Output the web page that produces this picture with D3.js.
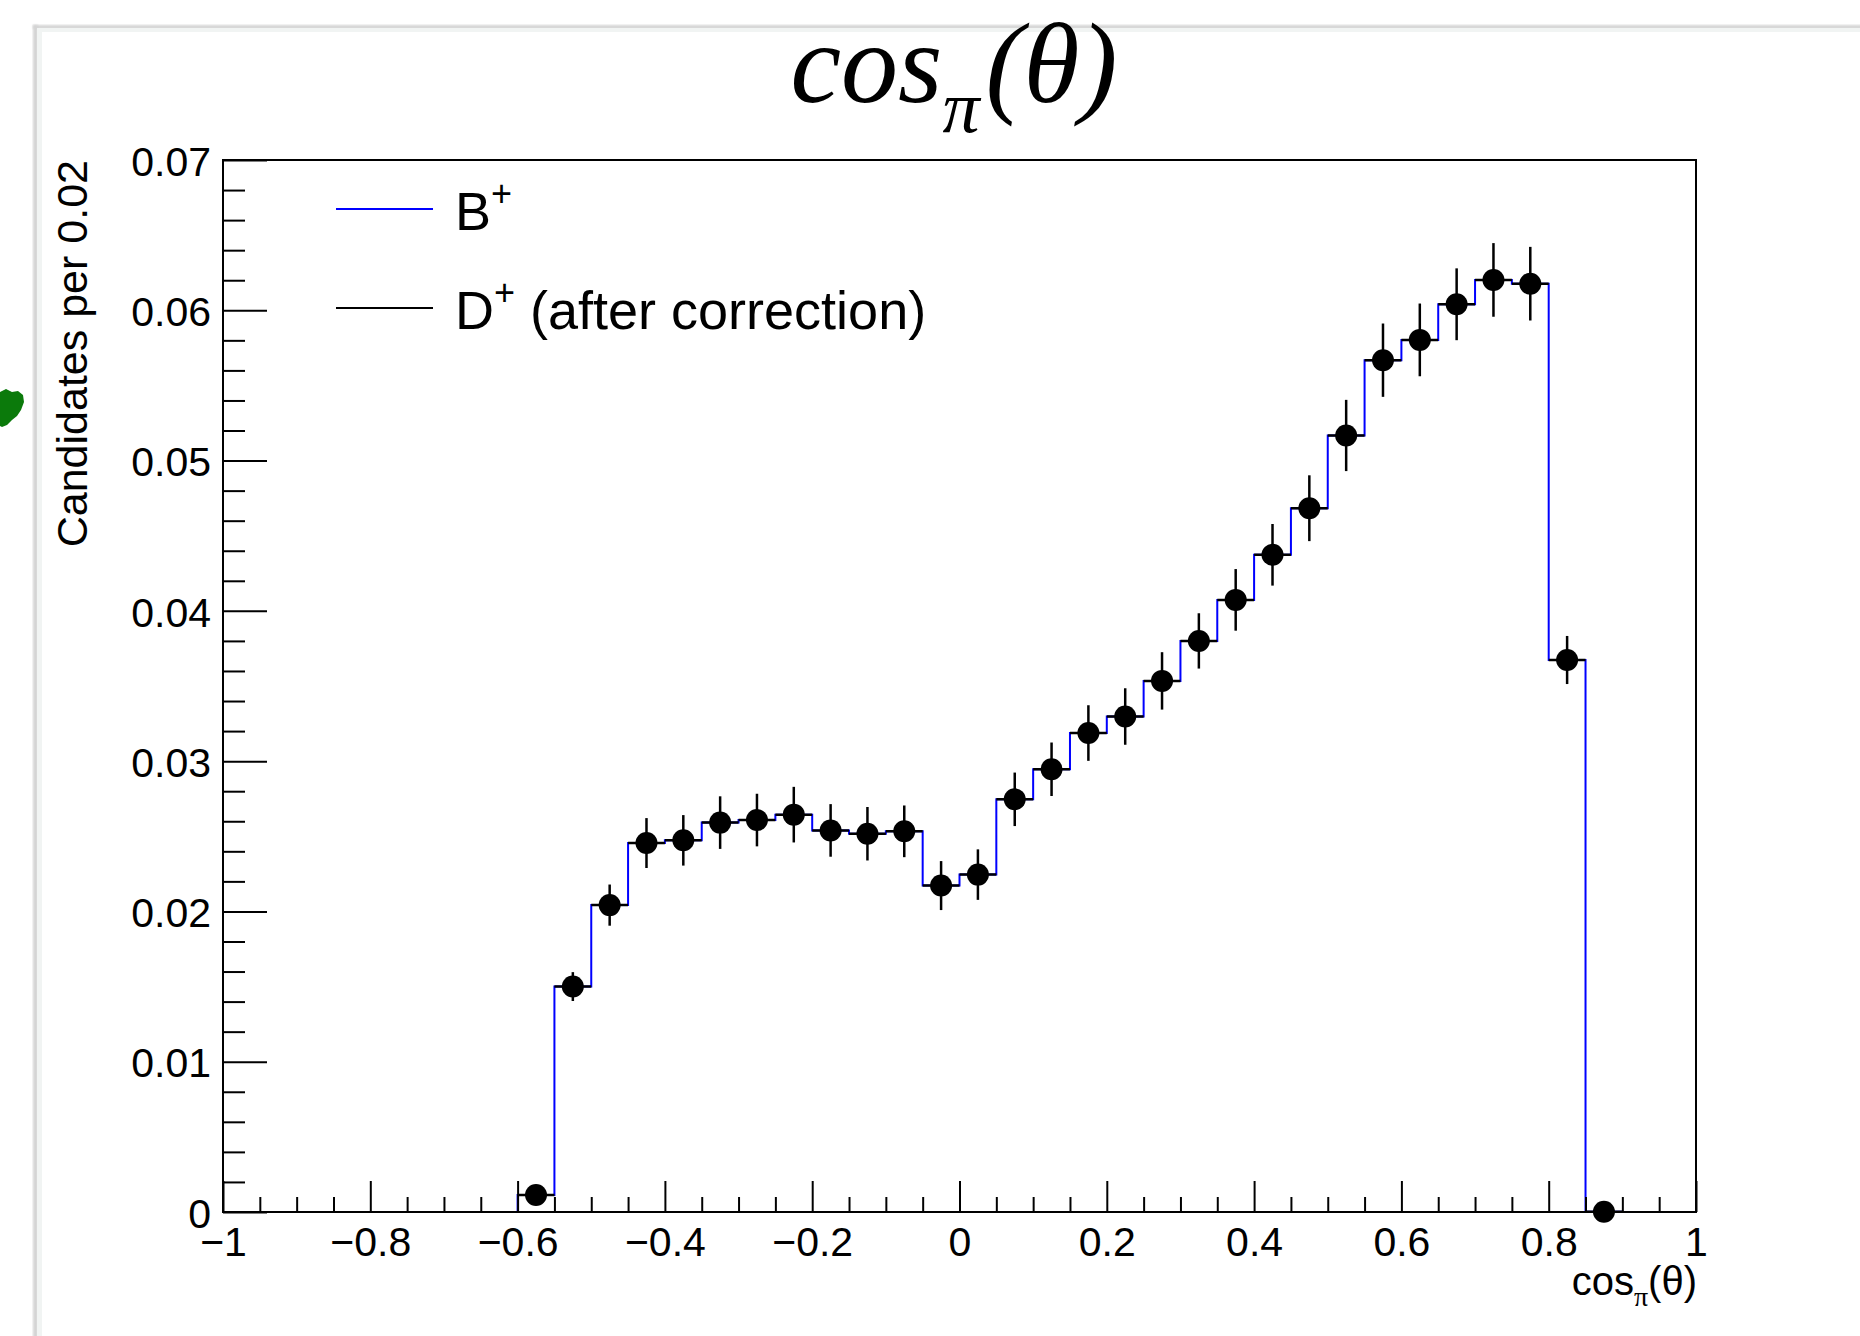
<!DOCTYPE html>
<html>
<head>
<meta charset="utf-8">
<script src="https://cdn.jsdelivr.net/npm/d3@7"></script>
<style>
	body { margin: 0; background: #fff; }
	svg { display: block; }
</style>
</head>
<body>
<script>
// bins of 0.05 over [-1, 1]
const binLow = [-1, -0.95, -0.9, -0.85, -0.8, -0.75, -0.7, -0.65, -0.6, -0.55,
	-0.5, -0.45, -0.4, -0.35, -0.3, -0.25, -0.2, -0.15, -0.1, -0.05,
	0, 0.05, 0.1, 0.15, 0.2, 0.25, 0.3, 0.35, 0.4, 0.45,
	0.5, 0.55, 0.6, 0.65, 0.7, 0.75, 0.8, 0.85, 0.9, 0.95];
const binWidth = 0.05;

// B+ histogram (blue line)
const bPlus = [0, 0, 0, 0, 0, 0, 0, 0, 0.00113, 0.01500,
	0.02042, 0.02455, 0.02473, 0.02591, 0.02608, 0.02644, 0.02539, 0.02517, 0.02533, 0.02172,
	0.02245, 0.02746, 0.02946, 0.03187, 0.03297, 0.03534, 0.03800, 0.04073, 0.04373, 0.04683,
	0.05167, 0.05668, 0.05803, 0.06040, 0.06202, 0.06177, 0.03673, 0.00002, 0, 0];

// D+ after correction (points with errors), null = empty bin
const dPlus = [null, null, null, null, null, null, null, null, 0.00113, 0.01500,
	0.02042, 0.02455, 0.02473, 0.02591, 0.02608, 0.02644, 0.02539, 0.02517, 0.02533, 0.02172,
	0.02245, 0.02746, 0.02946, 0.03187, 0.03297, 0.03534, 0.03800, 0.04073, 0.04373, 0.04683,
	0.05167, 0.05668, 0.05803, 0.06040, 0.06202, 0.06177, 0.03673, 0.00002, null, null];
const dPlusErr = [0, 0, 0, 0, 0, 0, 0, 0, 0.0004, 0.00096,
	0.00137, 0.00166, 0.00168, 0.00175, 0.00175, 0.00185, 0.00175, 0.00178, 0.00172, 0.00163,
	0.00168, 0.00178, 0.00178, 0.00185, 0.00188, 0.00191, 0.00184, 0.00205, 0.00205, 0.00219,
	0.00237, 0.00244, 0.00242, 0.00239, 0.00245, 0.00245, 0.0016, 0.0001, 0, 0];

const xLabels = [-1, -0.8, -0.6, -0.4, -0.2, 0, 0.2, 0.4, 0.6, 0.8, 1];
const yLabels = [0, 0.01, 0.02, 0.03, 0.04, 0.05, 0.06, 0.07];

const legendItems = [
	{ label: "B", sup: "+", rest: "", color: "#0000ff" },
	{ label: "D", sup: "+", rest: " (after correction)", color: "#000000" }
];

const sans = "'Liberation Sans', Arial, Helvetica, sans-serif";
const serif = "'Liberation Serif', 'Times New Roman', serif";

const dimensions = {
	width: 1860,
	height: 1336,
	margin: { top: 160, right: 164, bottom: 124, left: 223 }
};
dimensions.boundedWidth = dimensions.width - dimensions.margin.left - dimensions.margin.right;
dimensions.boundedHeight = dimensions.height - dimensions.margin.top - dimensions.margin.bottom;

const svg = d3.select("body").append("svg")
	.attr("width", dimensions.width)
	.attr("height", dimensions.height);

// window edge seen in the screenshot
const defs = svg.append("defs");
defs.append("filter").attr("id", "soft")
	.append("feGaussianBlur").attr("stdDeviation", 1.2);
svg.append("rect").attr("x", 33).attr("y", 25).attr("width", 5).attr("height", dimensions.height)
	.attr("fill", "#d4d4d4").attr("filter", "url(#soft)");
svg.append("rect").attr("x", 33).attr("y", 25).attr("width", dimensions.width).attr("height", 4)
	.attr("fill", "#d4d4d4").attr("filter", "url(#soft)");
svg.append("rect").attr("x", 37).attr("y", 28).attr("width", dimensions.width).attr("height", dimensions.height)
	.attr("fill", "#f1f4f3");
svg.append("rect").attr("x", 42).attr("y", 32).attr("width", dimensions.width).attr("height", dimensions.height)
	.attr("fill", "#ffffff");

// little green thing poking in at the left edge
svg.append("path")
	.attr("d", "M0,392 L6,389 L12,392 L18,391 L23,395 L24,402 L21,410 L17,416 L12,420 L7,425 L2,427 L0,426 Z")
	.attr("fill", "#0b7a0b");

const bounds = svg.append("g")
	.attr("transform", `translate(${dimensions.margin.left}, ${dimensions.margin.top})`);

const xScale = d3.scaleLinear()
	.domain([-1, 1])
	.range([0, dimensions.boundedWidth]);
const yScale = d3.scaleLinear()
	.domain([0, 0.07])
	.range([dimensions.boundedHeight, 0]);

const fmt = d3.format("~g");

// histogram first so the frame sits over the zero line
const histPoints = binLow.map((d, i) => [d, bPlus[i]]);
histPoints.push([1, bPlus[bPlus.length - 1]]);
bounds.append("path")
	.attr("d", d3.line()
		.x(d => xScale(d[0]))
		.y(d => yScale(d[1]))
		.curve(d3.curveStepAfter)(histPoints))
	.attr("fill", "none")
	.attr("stroke", "#0000ff")
	.attr("stroke-width", 2);

// axes
const xAxis = bounds.append("g")
	.attr("transform", `translate(0, ${dimensions.boundedHeight})`)
	.call(d3.axisBottom(xScale)
		.tickValues(xLabels)
		.tickSize(-31)
		.tickPadding(15)
		.tickFormat(fmt));
const xMinor = bounds.append("g")
	.attr("transform", `translate(0, ${dimensions.boundedHeight})`)
	.call(d3.axisBottom(xScale)
		.tickValues(d3.range(-1, 1.001, 0.05).filter(v => Math.abs(v * 5 - Math.round(v * 5)) > 1e-6))
		.tickSize(-15)
		.tickFormat(""));

const yAxis = bounds.append("g")
	.call(d3.axisLeft(yScale)
		.tickValues(yLabels)
		.tickSize(-44)
		.tickPadding(12)
		.tickFormat(fmt));
const yMinor = bounds.append("g")
	.call(d3.axisLeft(yScale)
		.tickValues(d3.range(0, 0.0701, 0.002).filter(v => Math.abs(v * 100 - Math.round(v * 100)) > 1e-6))
		.tickSize(-22)
		.tickFormat(""));

[xAxis, xMinor, yAxis, yMinor].forEach(g => {
	g.select(".domain").remove();
	g.selectAll("line").attr("stroke", "#000").attr("stroke-width", 2);
	g.selectAll("text")
		.attr("fill", "#000")
		.style("font-family", sans)
		.style("font-size", "41px");
});
yAxis.selectAll("text").attr("dy", "0.37em");

bounds.append("rect")
	.attr("width", dimensions.boundedWidth)
	.attr("height", dimensions.boundedHeight)
	.attr("fill", "none")
	.attr("stroke", "#000")
	.attr("stroke-width", 2);

// D+ points
const pts = binLow.map((d, i) => ({ low: d, v: dPlus[i], e: dPlusErr[i] }))
	.filter(d => d.v !== null);

const pointG = bounds.append("g").attr("stroke", "#000").attr("stroke-width", 2.5);
pointG.selectAll(".xerr")
	.data(pts)
	.join("line")
	.attr("class", "xerr")
	.attr("x1", d => xScale(d.low))
	.attr("x2", d => xScale(d.low + binWidth))
	.attr("y1", d => yScale(d.v))
	.attr("y2", d => yScale(d.v));
pointG.selectAll(".yerr")
	.data(pts)
	.join("line")
	.attr("class", "yerr")
	.attr("x1", d => xScale(d.low + binWidth / 2))
	.attr("x2", d => xScale(d.low + binWidth / 2))
	.attr("y1", d => yScale(d.v - d.e))
	.attr("y2", d => yScale(d.v + d.e));
bounds.append("g").selectAll("circle")
	.data(pts)
	.join("circle")
	.attr("cx", d => xScale(d.low + binWidth / 2))
	.attr("cy", d => yScale(d.v))
	.attr("r", 11)
	.attr("fill", "#000");

// titles
const title = svg.append("text")
	.attr("x", 954)
	.attr("y", 102)
	.attr("text-anchor", "middle")
	.style("font-family", serif)
	.style("font-style", "italic")
	.style("font-size", "114px");
title.append("tspan").text("cos");
title.append("tspan").attr("dy", 30).style("font-size", "74px").text("π");
title.append("tspan").attr("dy", -30).attr("dx", 6).text("(θ)");

const xTitle = svg.append("text")
	.attr("x", dimensions.margin.left + dimensions.boundedWidth + 1)
	.attr("y", 1295)
	.attr("text-anchor", "end")
	.style("font-family", sans)
	.style("font-size", "40px");
xTitle.append("tspan").text("cos");
xTitle.append("tspan").attr("dy", 11).style("font-family", serif).style("font-size", "28px").text("π");
xTitle.append("tspan").attr("dy", -11).text("(θ)");

svg.append("text")
	.attr("transform", `translate(87, ${dimensions.margin.top}) rotate(-90)`)
	.attr("text-anchor", "end")
	.style("font-family", sans)
	.style("font-size", "43px")
	.text("Candidates per 0.02");

// legend
const legend = svg.append("g").attr("transform", "translate(336, 209)");
const rows = legend.selectAll("g")
	.data(legendItems)
	.join("g")
	.attr("transform", (d, i) => `translate(0, ${i * 99})`);
rows.append("line")
	.attr("x1", 0).attr("x2", 97)
	.attr("stroke", d => d.color)
	.attr("stroke-width", 2);
const lt = rows.append("text")
	.attr("x", 119)
	.attr("y", 21)
	.style("font-family", sans)
	.style("font-size", "54px");
lt.append("tspan").text(d => d.label);
lt.append("tspan").attr("dy", -24).style("font-size", "36px").text(d => d.sup);
lt.append("tspan").attr("dy", 24).text(d => d.rest);
</script>
</body>
</html>
